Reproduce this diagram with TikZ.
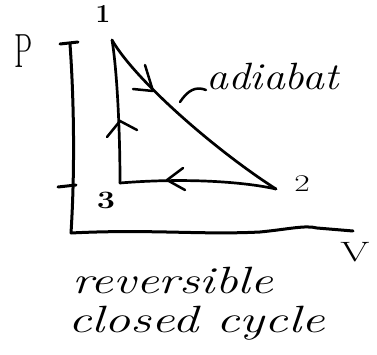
\documentclass[tikz,border=0pt]{standalone}
\usepackage{fontspec}
\usetikzlibrary{calc}
\begin{document}
\begin{tikzpicture}[x=1pt,y=-1pt,
  ink/.style={line width=2.7pt,line cap=round,line join=round},
  axisline/.style={line width=3pt,line cap=round,line join=round},
  barb/.style={line width=2.5pt,line cap=round,line join=round},
  hand/.style={inner sep=0pt,font=\itshape},
  lbl/.style={inner sep=0pt}]
\useasboundingbox (0,0) rectangle (377,355);
% axes
\coordinate (ytop) at (70,44);
\coordinate (orig) at (71,233);
\coordinate (xend) at (353,231);
\draw[axisline] (60,44) -- (78,42);
\draw[axisline] (58,187) -- (76,185);
\draw[axisline] (ytop) .. controls (74,100) and (75,170) .. (orig);
\draw[axisline] (orig) .. controls (150,229) and (200,235) .. (260,232)
   .. controls (290,229) and (305,225) .. (317,228) -- (xend);
\node[lbl] (P) at (24,51) {\fontsize{48}{50}\selectfont\scalebox{0.6}[1]{P}};
\node[lbl] (V) at (355,252) {\fontsize{28}{30}\selectfont\scalebox{1.5}[1]{V}};
% cycle points
\coordinate (p1) at (112,40);
\coordinate (p2) at (276,189);
\coordinate (p3) at (120,183);
\draw[ink] (p1) .. controls (135,80) and (215,150) .. (p2);
\draw[ink] (p2) .. controls (240,181) and (180,178) .. (p3);
\draw[ink] (p3) .. controls (120,130) and (117,70) .. (p1);
% arrow chevrons
\coordinate (t12) at (153,91);
\coordinate (t31) at (120,121);
\coordinate (t23) at (167,180);
\draw[barb] (145,65) -- (t12) -- (133,89);
\draw[barb] (107,137) -- (t31) -- (137,130);
\draw[barb] (183,168) -- (t23) -- (185,190);
% point labels
\node[lbl] (l1) at (103,14) {\bfseries\fontsize{26}{28}\selectfont 1};
\node[lbl] (l2) at (302,184) {\fontsize{24}{26}\selectfont\scalebox{1.4}[1]{2}};
\node[lbl] (l3) at (106,200) {\bfseries\fontsize{25}{27}\selectfont\scalebox{1.3}[1]{3}};
% adiabat label
\node[hand,anchor=base west] (adia) at (206,90) {\fontsize{38}{40}\selectfont\scalebox{1.15}[1]{adiabat}};
\coordinate (lead) at (180,102);
\draw[barb] (lead) .. controls (188,90) and (196,86) .. (adia.base west);
% caption
\node[hand,anchor=base west] (rev) at (72,293) {\fontsize{38}{40}\selectfont\scalebox{1.33}[1]{reversible}};
\node[hand,anchor=base west] (cyc) at (68,332) {\fontsize{38}{40}\selectfont\scalebox{1.37}[1]{closed cycle}};
\end{tikzpicture}
\end{document}
